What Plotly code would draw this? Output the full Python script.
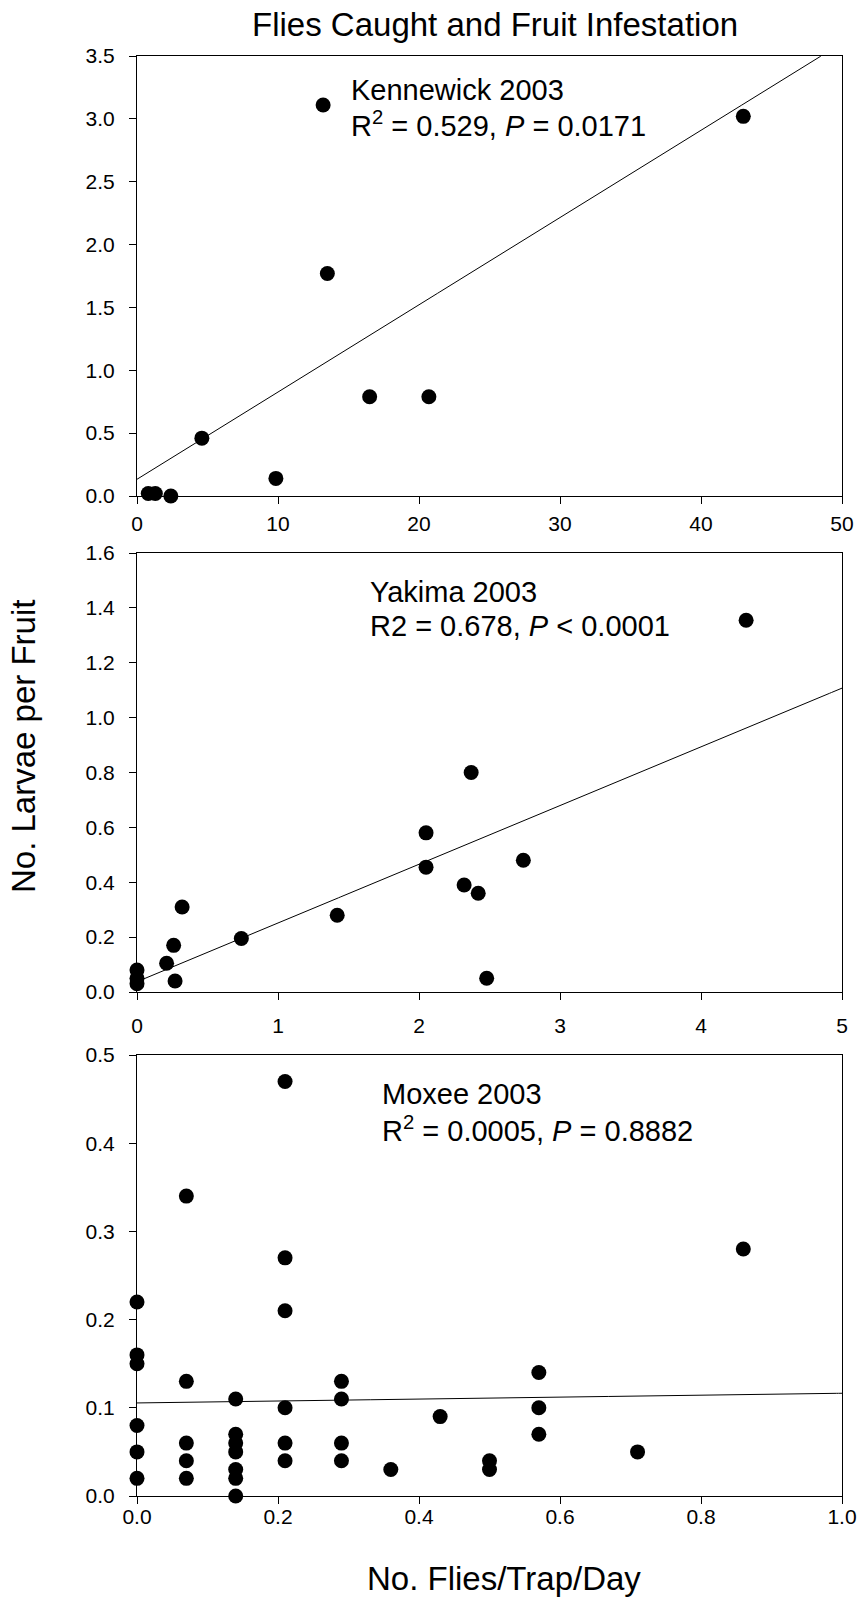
import numpy as np
import plotly.graph_objects as go

# ---------------- data ----------------
ken_x = [0.8, 1.3, 2.4, 4.6, 9.85, 13.2, 13.5, 16.5, 20.7, 43.0]
ken_y = [0.02, 0.02, 0.0, 0.46, 0.14, 3.11, 1.77, 0.79, 0.79, 3.02]
ken_fit = (0.133, 0.0694)  # intercept, slope

yak_x = [0.0, 0.0, 0.0, 0.21, 0.26, 0.27, 0.32, 0.74, 1.42, 2.05, 2.05, 2.32, 2.37, 2.42, 2.48, 2.74, 4.32]
yak_y = [0.08, 0.05, 0.03, 0.105, 0.17, 0.04, 0.31, 0.195, 0.28, 0.58, 0.455, 0.39, 0.80, 0.36, 0.05, 0.48, 1.355]
yak_fit = (0.0375, 0.214)

mox_x = [0.0, 0.0, 0.0, 0.0, 0.0, 0.0,
         0.07, 0.07, 0.07, 0.07, 0.07,
         0.14, 0.14, 0.14, 0.14, 0.14, 0.14, 0.14,
         0.21, 0.21, 0.21, 0.21, 0.21, 0.21,
         0.29, 0.29, 0.29, 0.29,
         0.36, 0.43, 0.50, 0.50,
         0.57, 0.57, 0.57, 0.71, 0.86]
mox_y = [0.22, 0.16, 0.15, 0.08, 0.05, 0.02,
         0.34, 0.13, 0.06, 0.04, 0.02,
         0.11, 0.07, 0.06, 0.05, 0.03, 0.02, 0.0,
         0.47, 0.27, 0.21, 0.10, 0.06, 0.04,
         0.13, 0.11, 0.06, 0.04,
         0.03, 0.09, 0.04, 0.03,
         0.14, 0.10, 0.07, 0.05, 0.28]
mox_fit = (0.1055, 0.011)

panel_labels = ["Kennewick 2003", "Yakima 2003", "Moxee 2003"]
panel_stats = ["R<sup>2</sup> = 0.529, <i>P</i> = 0.0171",
               "R2 = 0.678, <i>P</i> &lt; 0.0001",
               "R<sup>2</sup> = 0.0005, <i>P</i> = 0.8882"]

x_ranges = [(0, 50), (0, 5), (0, 1)]
y_ranges = [(0, 3.5), (0, 1.6), (0, 0.5)]
x_dticks = [10, 1, 0.2]
y_dticks = [0.5, 0.2, 0.1]
x_fmt = ["d", "d", ".1f"]
y_fmt = [".1f", ".1f", ".1f"]

title_text = "Flies Caught and Fruit Infestation"
x_title = "No. Flies/Trap/Day"
y_title = "No. Larvae per Fruit"

# ---------------- figure ----------------
FONT = "Liberation Sans, Arial, sans-serif"
W, H = 862, 1600
L, R, T, B = 137, 20, 56, 104
plot_h = H - T - B

def ydom(top_px, bot_px):
    return [(H - B - bot_px) / plot_h, (H - B - top_px) / plot_h]

domains = [ydom(56, 496), ydom(553, 992), ydom(1055, 1496)]
x_standoff = [2, 8, -5]

fig = go.Figure()
datasets = [(ken_x, ken_y, ken_fit), (yak_x, yak_y, yak_fit), (mox_x, mox_y, mox_fit)]

for i, (xs, ys, fit) in enumerate(datasets):
    sfx = "" if i == 0 else str(i + 1)
    xr = x_ranges[i]
    yr = y_ranges[i]
    lx = np.linspace(xr[0], xr[1], 400)
    ly = fit[0] + fit[1] * lx
    mask = ly <= yr[1]
    fig.add_trace(go.Scatter(x=lx[mask], y=ly[mask], mode="lines",
                             line=dict(color="black", width=1),
                             xaxis="x" + sfx, yaxis="y" + sfx,
                             showlegend=False, hoverinfo="skip"))
    fig.add_trace(go.Scatter(x=xs, y=ys, mode="markers",
                             marker=dict(color="black", size=15, line=dict(width=0)),
                             xaxis="x" + sfx, yaxis="y" + sfx,
                             showlegend=False, cliponaxis=False))
    common = dict(showgrid=False, zeroline=False, showline=True, linecolor="black",
                  linewidth=1, mirror=True, ticks="outside", ticklen=7, tickwidth=1,
                  tickcolor="black", automargin=False,
                  tickfont=dict(family=FONT, size=21, color="black"))
    fig.layout["xaxis" + sfx] = dict(common, domain=[0, 1], range=list(xr),
                                     tick0=0, dtick=x_dticks[i], tickformat=x_fmt[i],
                                     anchor="y" + sfx, ticklabelstandoff=x_standoff[i])
    fig.layout["yaxis" + sfx] = dict(common, domain=domains[i], range=list(yr),
                                     tick0=0, dtick=y_dticks[i], tickformat=y_fmt[i],
                                     anchor="x" + sfx, ticklabelstandoff=10)

# panel annotations (pixel positions -> paper coords)
def px2paper(px, py):
    return (px - L) / (W - L - R), (H - B - py) / plot_h

label_pos = [(349, 90, 124), (368, 592, 626), (380, 1094, 1129)]
annots = []
for i, (px, py1, py2) in enumerate(label_pos):
    ax, ay = px2paper(px, py1)
    annots.append(dict(x=ax, y=ay, xref="paper", yref="paper", text=panel_labels[i],
                       showarrow=False, xanchor="left", yanchor="middle",
                       font=dict(family=FONT, size=29, color="black")))
    ax, ay = px2paper(px, py2)
    annots.append(dict(x=ax, y=ay, xref="paper", yref="paper", text=panel_stats[i],
                       showarrow=False, xanchor="left", yanchor="middle",
                       font=dict(family=FONT, size=29, color="black")))

tx, ty = px2paper(495, 24)
annots.append(dict(x=tx, y=ty, xref="paper", yref="paper", text=title_text,
                   showarrow=False, xanchor="center", yanchor="middle",
                   font=dict(family=FONT, size=33, color="black")))
xx, xy = px2paper(504, 1578)
annots.append(dict(x=xx, y=xy, xref="paper", yref="paper", text=x_title,
                   showarrow=False, xanchor="center", yanchor="middle",
                   font=dict(family=FONT, size=33, color="black")))
yx, yy = px2paper(23, 746)
annots.append(dict(x=yx, y=yy, xref="paper", yref="paper", text=y_title,
                   showarrow=False, xanchor="center", yanchor="middle", textangle=-90,
                   font=dict(family=FONT, size=33, color="black")))

fig.update_layout(width=W, height=H, margin=dict(l=L, r=R, t=T, b=B, autoexpand=False),
                  plot_bgcolor="white", paper_bgcolor="white",
                  annotations=annots, showlegend=False)

fig.write_html("out.html")
